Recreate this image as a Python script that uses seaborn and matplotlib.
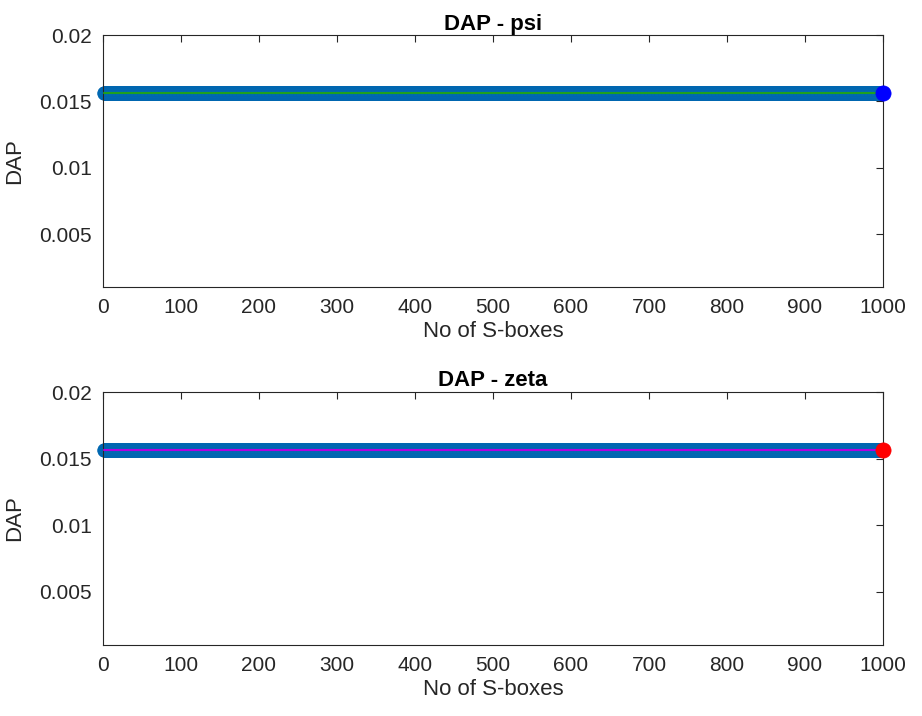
import numpy as np
import pandas as pd
import matplotlib
matplotlib.use("Agg")
import matplotlib.pyplot as plt
import seaborn as sns

# ---- data ----
n_sboxes = list(range(1, 1001))
dap_psi = [0.015625] * 1000
dap_zeta = [0.015625] * 1000
best_psi_x = [1000]
best_psi_y = [0.015625]
best_zeta_x = [1000]
best_zeta_y = [0.015625]
titles = ["DAP - psi", "DAP - zeta"]
x_ticks = [0, 100, 200, 300, 400, 500, 600, 700, 800, 900, 1000]
y_ticks = [0.005, 0.01, 0.015, 0.02]
y_tick_labels = ["0.005", "0.01", "0.015", "0.02"]

sns.set_theme(style="white")
plt.rcParams["font.family"] = ["Liberation Sans", "DejaVu Sans"]

fig = plt.figure(figsize=(9.22, 7.16), dpi=100)
ax_top = fig.add_axes([0.1117, 0.599, 0.846, 0.352])
ax_bot = fig.add_axes([0.1117, 0.0992, 0.846, 0.3533])

panels = [
    (ax_top, dap_psi, best_psi_x, best_psi_y, "#1fa01f", "#0000ff", titles[0]),
    (ax_bot, dap_zeta, best_zeta_x, best_zeta_y, "#b000e0", "#ff0000", titles[1]),
]

for ax, vals, bx, by, lcol, bcol, title in panels:
    df = pd.DataFrame({"n": n_sboxes, "dap": vals})
    sns.scatterplot(data=df, x="n", y="dap", ax=ax, s=95, color="#0072bd",
                    edgecolor="#0066b0", linewidth=0.6, zorder=2, legend=False,
                    clip_on=False)
    sns.lineplot(data=df, x="n", y="dap", ax=ax, color=lcol, linewidth=1.5,
                 zorder=3, legend=False)
    dfb = pd.DataFrame({"n": bx, "dap": by})
    sns.scatterplot(data=dfb, x="n", y="dap", ax=ax, s=120, color=bcol,
                    edgecolor=bcol, linewidth=0.5, zorder=4, legend=False,
                    clip_on=False)
    ax.set_xlim(0, 1000)
    ax.set_ylim(0.001, 0.02)
    ax.set_xticks(x_ticks)
    ax.set_xticklabels([str(t) for t in x_ticks])
    ax.set_yticks(y_ticks)
    ax.set_yticklabels(y_tick_labels)
    ax.tick_params(direction="in", length=5, width=0.8, top=True, right=True,
                   labelsize=15, colors="#262626", pad=8)
    ax.set_xlabel("No of S-boxes", fontsize=16, color="#262626", labelpad=3)
    ax.set_ylabel("DAP", fontsize=16, color="#262626", labelpad=10)
    ax.set_title(title, fontsize=16, fontweight="bold", color="black", pad=4)
    for sp in ax.spines.values():
        sp.set_color("#262626")
        sp.set_linewidth(0.8)
        sp.set_visible(True)

fig.savefig("out.png", dpi=100)
